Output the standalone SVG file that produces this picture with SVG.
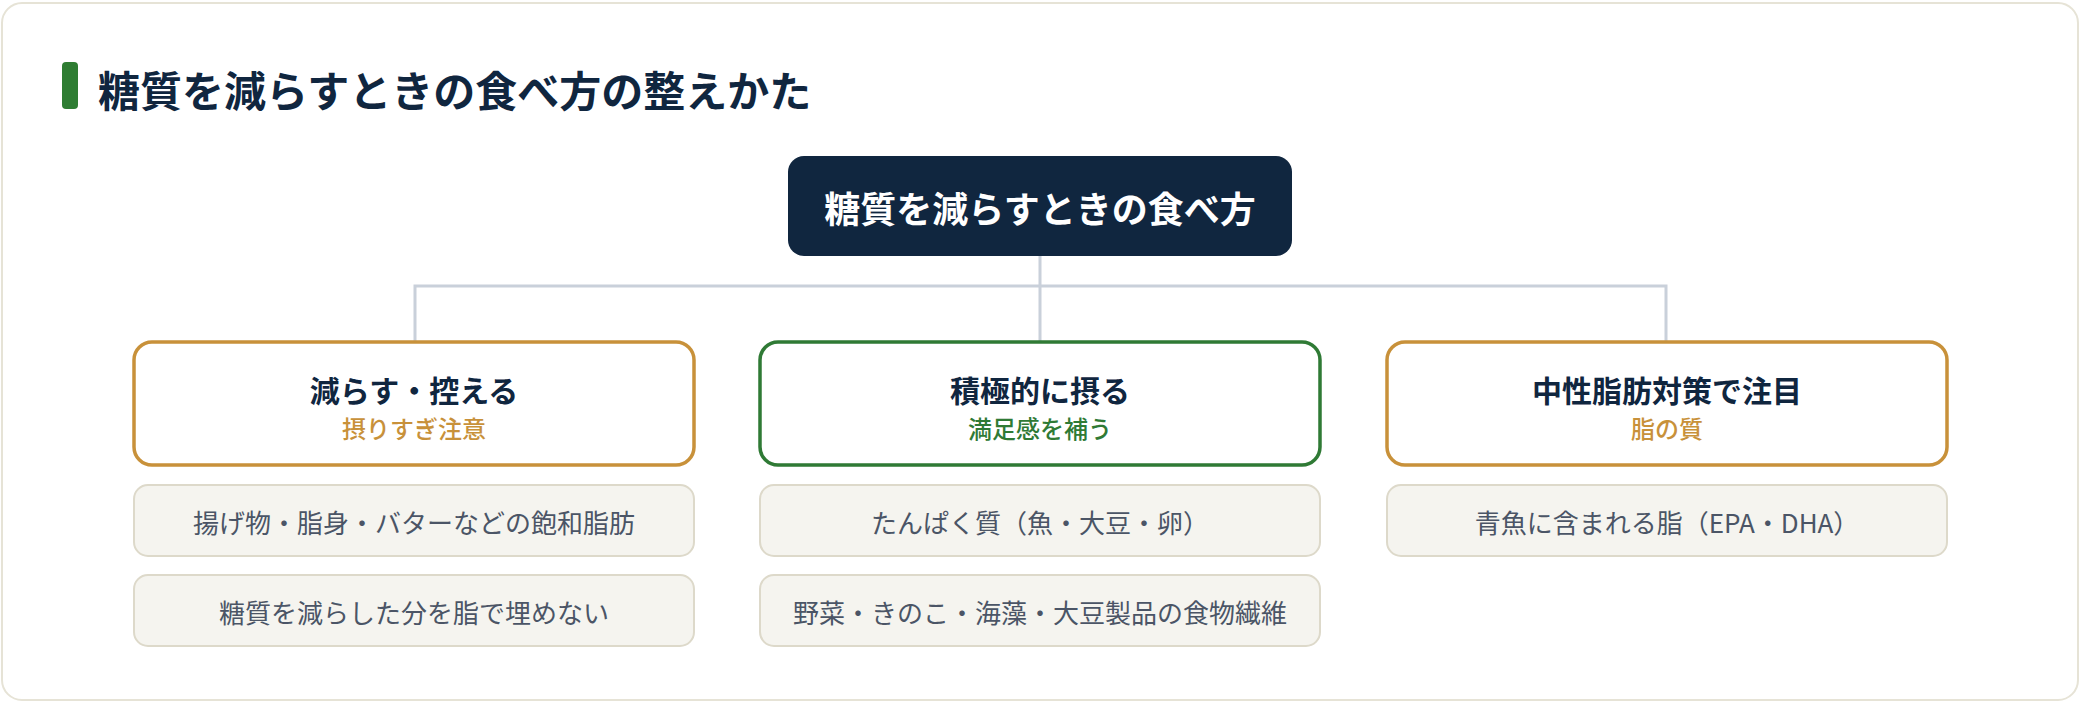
<svg xmlns="http://www.w3.org/2000/svg" width="2080" height="702" viewBox="0 0 2080 702">
<style>
text{font-family:"Noto Sans CJK JP","Noto Sans",sans-serif;text-anchor:middle;dominant-baseline:central}
.title{font-size:42px;font-weight:700;fill:#10263f;text-anchor:start}
.root-t{font-size:36px;font-weight:700;fill:#ffffff}
.cat{fill:#ffffff;stroke-width:3.5}
.gold{stroke:#c8913a}
.green{stroke:#2f7a35}
.cat-t{font-size:30px;font-weight:700;fill:#10263f}
.sub{font-size:24px;font-weight:500}
.item{fill:#f5f4ef;stroke:#ddd9ca;stroke-width:2}
.item-t{font-size:26px;fill:#4b5566}
.conn{fill:none;stroke:#c9d0da;stroke-width:3}
</style>
<rect x="2" y="3" width="2076" height="697" rx="20" fill="#ffffff" stroke="#e6e3d6" stroke-width="2"/>
<g id="heading">
<rect x="62" y="62" width="16" height="47" rx="4" fill="#2e7d32"/>
<text class="title" x="98" y="88">糖質を減らすときの食べ方の整えかた</text>
</g>
<g id="connectors">
<path class="conn" d="M1040 256 V341 M415 341 V286 H1666 V341"/>
</g>
<g id="root">
<rect x="788" y="156" width="504" height="100" rx="16" fill="#10263f"/>
<text class="root-t" x="1040" y="207">糖質を減らすときの食べ方</text>
</g>
<g id="cat1">
<rect class="cat gold" x="134" y="342" width="560" height="123" rx="18"/>
<text class="cat-t" x="414" y="389">減らす・控える</text>
<text class="sub" x="414" y="427" fill="#c8913a">摂りすぎ注意</text>
</g>
<g id="cat2">
<rect class="cat green" x="760" y="342" width="560" height="123" rx="18"/>
<text class="cat-t" x="1040" y="389">積極的に摂る</text>
<text class="sub" x="1040" y="427" fill="#2f7a35">満足感を補う</text>
</g>
<g id="cat3">
<rect class="cat gold" x="1387" y="342" width="560" height="123" rx="18"/>
<text class="cat-t" x="1667" y="389">中性脂肪対策で注目</text>
<text class="sub" x="1667" y="427" fill="#c8913a">脂の質</text>
</g>
<g id="item1a">
<rect class="item" x="134" y="485" width="560" height="71" rx="14"/>
<text class="item-t" x="414" y="521">揚げ物・脂身・バターなどの飽和脂肪</text>
</g>
<g id="item1b">
<rect class="item" x="134" y="575" width="560" height="71" rx="14"/>
<text class="item-t" x="414" y="611">糖質を減らした分を脂で埋めない</text>
</g>
<g id="item2a">
<rect class="item" x="760" y="485" width="560" height="71" rx="14"/>
<text class="item-t" x="1040" y="521">たんぱく質（魚・大豆・卵）</text>
</g>
<g id="item2b">
<rect class="item" x="760" y="575" width="560" height="71" rx="14"/>
<text class="item-t" x="1040" y="611">野菜・きのこ・海藻・大豆製品の食物繊維</text>
</g>
<g id="item3a">
<rect class="item" x="1387" y="485" width="560" height="71" rx="14"/>
<text class="item-t" x="1667" y="521">青魚に含まれる脂（EPA・DHA）</text>
</g>
</svg>
